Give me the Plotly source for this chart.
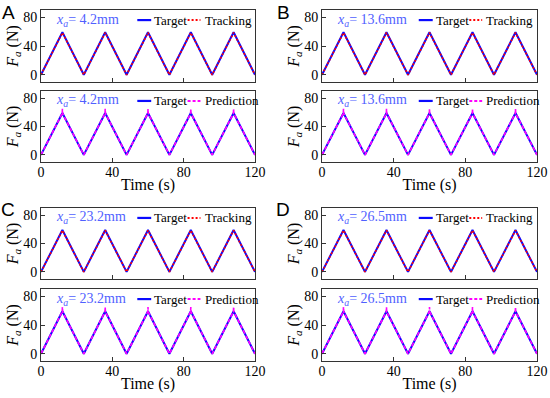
import plotly.graph_objects as go

# ---------------- data ----------------
panel_letters = ["A", "B", "C", "D"]
displacements = ["4.2", "13.6", "23.2", "26.5"]

time_target = [0, 12, 24, 36, 48, 60, 72, 84, 96, 108, 120]
force_target = [0, 59, 0, 59, 0, 59, 0, 59, 0, 59, 0]

time_tracking = [0, 12, 24, 36, 48, 60, 72, 84, 96, 108, 120]
force_tracking = [0, 58.5, 0, 58.5, 0, 58.5, 0, 58.5, 0, 58.5, 0]

time_prediction = [0, 11.9, 12, 12.1, 24, 35.9, 36, 36.1, 48, 59.9, 60, 60.1,
                   72, 83.9, 84, 84.1, 96, 107.9, 108, 108.1, 120]
force_prediction = [0, 58.5, 65, 58.5, 0, 58.5, 65, 58.5, 0, 58.5, 65, 58.5,
                    0, 58.5, 65, 58.5, 0, 58.5, 65, 58.5, 0]

x_ticks = [0, 40, 80, 120]
y_ticks = [0, 40, 80]

# ---------------- layout geometry ----------------
W, H = 550, 398
col_px = [(41, 255), (322, 537)]
row_px = [(10, 82), (91, 162), (208, 279), (289, 361)]

FONT = "Liberation Serif"
BLUE = "#0a0aff"
RED = "#ff0000"
MAG = "#ff00ff"
ANN = "#5060ff"
AX = "#333333"

fig = go.Figure()
layout = {}
shapes = []
annotations = []

n = 0
for pr in range(2):          # panel row (A/B, C/D)
    for pc in range(2):      # panel column
        p = pr * 2 + pc
        for sub in range(2):  # 0 = tracking, 1 = prediction
            n += 1
            r = pr * 2 + sub
            x0, x1 = col_px[pc]
            t0, t1 = row_px[r]
            xa = "x" if n == 1 else f"x{n}"
            ya = "y" if n == 1 else f"y{n}"
            xkey = "xaxis" if n == 1 else f"xaxis{n}"
            ykey = "yaxis" if n == 1 else f"yaxis{n}"

            fig.add_trace(go.Scatter(x=time_target, y=force_target, mode="lines",
                                     line=dict(color=BLUE, width=2),
                                     xaxis=xa, yaxis=ya, showlegend=False,
                                     name="Target"))
            if sub == 0:
                fig.add_trace(go.Scatter(x=time_tracking, y=force_tracking, mode="lines",
                                         line=dict(color=RED, width=1.6, dash="2px,2px"),
                                         xaxis=xa, yaxis=ya, showlegend=False,
                                         name="Tracking"))
                second = "Tracking"
                scol = RED
                sdash = "2px,2px"
            else:
                fig.add_trace(go.Scatter(x=time_prediction, y=force_prediction, mode="lines",
                                         line=dict(color=MAG, width=1.6, dash="4px,2px"),
                                         xaxis=xa, yaxis=ya, showlegend=False,
                                         name="Prediction"))
                second = "Prediction"
                scol = MAG
                sdash = "3px,2px"

            show_xlab = (sub == 1)
            layout[xkey] = dict(
                domain=[x0 / W, x1 / W], anchor=ya, range=[0, 120],
                tickvals=x_ticks, showticklabels=show_xlab, automargin=False,
                ticks="inside", ticklen=4, tickcolor=AX, ticklabelstandoff=-3,
                showline=True, mirror=True, linecolor=AX, linewidth=1,
                showgrid=False, zeroline=False,
                tickfont=dict(family=FONT, size=14, color="black"),
                title=dict(text="Time (s)" if show_xlab else "",
                           font=dict(family=FONT, size=16, color="black"),
                           standoff=0),
            )
            layout[ykey] = dict(
                domain=[1 - t1 / H, 1 - t0 / H], anchor=xa, range=[-10, 90],
                tickvals=y_ticks, ticks="inside", ticklen=4, tickcolor=AX,
                showline=True, mirror=True, linecolor=AX, linewidth=1,
                showgrid=False, zeroline=False, automargin=False,
                tickfont=dict(family=FONT, size=14, color="black"),
                title=dict(text="<i>F<sub>a</sub></i> (N)",
                           font=dict(family=FONT, size=16, color="black"),
                           standoff=0),
            )

            xd = f"{xa} domain"
            yd = f"{ya} domain"
            ly = 0.86
            # displacement label
            annotations.append(dict(
                x=0.06, y=ly, xref=xd, yref=yd, xanchor="left", yanchor="middle",
                text=f"<i>x<sub>a</sub></i>= {displacements[p]}mm", showarrow=False,
                font=dict(family=FONT, size=14, color=ANN)))
            # legend: Target
            shapes.append(dict(type="line", xref=xd, yref=yd, x0=0.45, x1=0.515,
                               y0=ly, y1=ly, line=dict(color=BLUE, width=2.2)))
            annotations.append(dict(
                x=0.52, y=ly, xref=xd, yref=yd, xanchor="left", yanchor="middle",
                text="Target", showarrow=False,
                font=dict(family=FONT, size=13, color="black")))
            shapes.append(dict(type="line", xref=xd, yref=yd, x0=0.685, x1=0.745,
                               y0=ly, y1=ly, line=dict(color=scol, width=2, dash=sdash)))
            annotations.append(dict(
                x=0.755, y=ly, xref=xd, yref=yd, xanchor="left", yanchor="middle",
                text=second, showarrow=False,
                font=dict(family=FONT, size=13, color="black")))

        # panel letter
        lx = 8 if pc == 0 else 283
        lyp = row_px[pr * 2][0] + 2
        annotations.append(dict(
            x=lx / W, y=1 - lyp / H, xref="paper", yref="paper",
            xanchor="center", yanchor="middle", text=panel_letters[p], showarrow=False,
            font=dict(family="Liberation Sans", size=19, color="black")))

fig.update_layout(
    width=W, height=H, margin=dict(l=0, r=0, t=0, b=0, autoexpand=False),
    paper_bgcolor="white", plot_bgcolor="white",
    shapes=shapes, annotations=annotations, showlegend=False,
    **layout,
)

fig.write_html("out.html", config={"displayModeBar": False},
               post_script="document.body.style.margin='0';document.body.style.overflow='hidden';")
